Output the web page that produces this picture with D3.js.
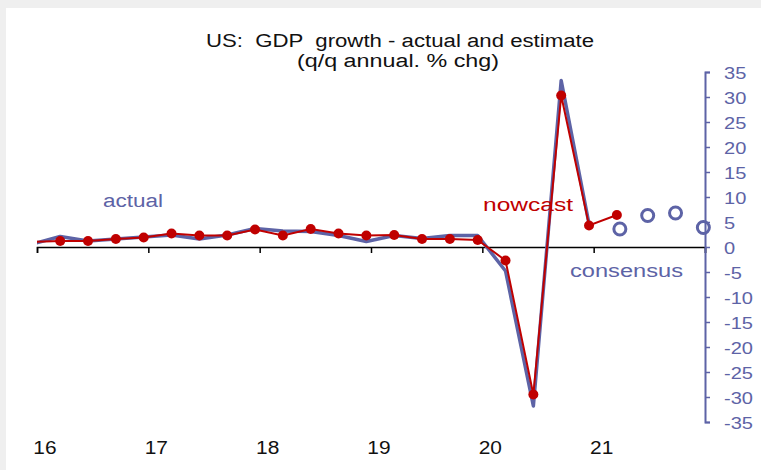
<html>
<head>
<script src="https://d3js.org/d3.v7.min.js"></script>
<style>
  body { margin: 0; background: #fff; }
  text { font-family: "Liberation Sans", Arial, sans-serif; }
</style>
</head>
<body>
<svg id="chart" width="761" height="470"></svg>
<script>
// quarterly data
const actualQ = ["2015Q4","2016Q1","2016Q2","2016Q3","2016Q4","2017Q1","2017Q2","2017Q3","2017Q4",
  "2018Q1","2018Q2","2018Q3","2018Q4","2019Q1","2019Q2","2019Q3","2019Q4","2020Q1","2020Q2","2020Q3","2020Q4"];
const actual = [0.6, 2.1, 1.2, 1.6, 2.0, 2.4, 1.6, 2.4, 3.7, 3.2, 3.1, 2.3, 1.1, 2.3, 1.7, 2.3, 2.3, -4.8, -31.8, 33.3, 4.6];

const nowcastQ = actualQ.concat(["2021Q1"]);
const nowcast = [1.0, 1.2, 1.2, 1.6, 1.9, 2.7, 2.3, 2.3, 3.5, 2.3, 3.6, 2.7, 2.3, 2.4, 1.6, 1.6, 1.4, -2.7, -29.5, 30.3, 4.3, 6.4];

const consensusQ = ["2021Q1","2021Q2","2021Q3","2021Q4"];
const consensus = [3.6, 6.3, 6.8, 3.9];

const yearTicks = [2016, 2017, 2018, 2019, 2020, 2021, 2022];
const yearLabels = ["16", "17", "18", "19", "20", "21"];
const yTicks = [35, 30, 25, 20, 15, 10, 5, 0, -5, -10, -15, -20, -25, -30, -35];

const svg = d3.select("#chart");
const W = 761, H = 470;
const blue = "#5d63a6", red = "#c00000";

// frame
svg.append("rect").attr("width", W).attr("height", H).attr("fill", "#efefef");
svg.append("rect").attr("x", 6).attr("y", 8).attr("width", W - 6).attr("height", H - 8).attr("fill", "#fff");

const x = d3.scaleLinear().domain([2016, 2022]).range([37, 705]);
const y = d3.scaleLinear().domain([-35, 35]).range([422, 72]);

// quarter string -> fractional year (middle of last month of quarter)
const qx = s => { const yr = +s.slice(0, 4), q = +s.slice(5); return x(yr + (3 * q - 0.5) / 12); };

svg.append("clipPath").attr("id", "clip")
  .append("rect").attr("x", 37).attr("y", 0).attr("width", 668).attr("height", H);

// title (the original text is a bit stretched sideways)
svg.append("text").attr("x", 400).attr("y", 47).attr("text-anchor", "middle")
  .style("font-size", "18px").attr("fill", "#111")
  .attr("xml:space", "preserve")
  .attr("textLength", 388).attr("lengthAdjust", "spacingAndGlyphs")
  .text("US:  GDP  growth - actual and estimate");
svg.append("text").attr("x", 398).attr("y", 67).attr("text-anchor", "middle")
  .style("font-size", "18px").attr("fill", "#111")
  .attr("textLength", 202).attr("lengthAdjust", "spacingAndGlyphs")
  .text("(q/q annual. % chg)");

// x axis
const xAxis = d3.axisBottom(x).tickValues(yearTicks).tickSize(6).tickFormat("");
const gx = svg.append("g").attr("transform", "translate(0," + y(0) + ")").call(xAxis);
gx.select(".domain").attr("stroke", "#000").attr("stroke-width", 1.5);
gx.selectAll(".tick line").attr("stroke", "#000").attr("stroke-width", 1.5);

svg.selectAll(".xlab").data(yearLabels).enter().append("text")
  .attr("class", "xlab")
  .attr("transform", (d, i) => "translate(" + (x(yearTicks[i]) + 8) + ",454) scale(1.1,1)")
  .attr("text-anchor", "middle")
  .style("font-size", "19px")
  .attr("fill", "#111")
  .text(d => d);

// y axis on the right
const yAxis = d3.axisRight(y).tickValues(yTicks).tickSize(5).tickSizeOuter(5).tickFormat(d => d);
const gy = svg.append("g").attr("transform", "translate(705,0)").call(yAxis);
gy.select(".domain").attr("stroke", blue).attr("stroke-width", 2);
gy.selectAll(".tick line").attr("stroke", blue).attr("stroke-width", 1.5);
gy.selectAll(".tick text").attr("fill", blue).style("font-size", "17px")
  .style("font-family", "'Liberation Sans', Arial, sans-serif").attr("text-anchor", "start")
  .attr("x", 0).attr("dy", "0.36em")
  .attr("transform", "translate(19,0) scale(1.18,1)");

// lines
const line = d3.line().x(d => qx(d.q)).y(d => y(d.v));
const actualData = actualQ.map((q, i) => ({ q: q, v: actual[i] }));
const nowData = nowcastQ.map((q, i) => ({ q: q, v: nowcast[i] }));

svg.append("path").attr("clip-path", "url(#clip)")
  .attr("d", line(actualData)).attr("fill", "none")
  .attr("stroke", blue).attr("stroke-width", 3.5).attr("stroke-linejoin", "round");

svg.append("path").attr("clip-path", "url(#clip)")
  .attr("d", line(nowData)).attr("fill", "none")
  .attr("stroke", red).attr("stroke-width", 2);

svg.append("g").attr("clip-path", "url(#clip)").selectAll("circle").data(nowData).enter().append("circle")
  .attr("cx", d => qx(d.q)).attr("cy", d => y(d.v)).attr("r", 5).attr("fill", red);

svg.append("g").selectAll("circle").data(consensusQ.map((q, i) => ({ q: q, v: consensus[i] }))).enter()
  .append("circle")
  .attr("cx", d => qx(d.q) + 3).attr("cy", d => y(d.v)).attr("r", 6)
  .attr("fill", "none").attr("stroke", blue).attr("stroke-width", 3);

// labels
const label = (txt, lx, ly, len, col) => svg.append("text").attr("x", lx).attr("y", ly)
  .style("font-size", "18px").attr("textLength", len).attr("lengthAdjust", "spacingAndGlyphs")
  .attr("fill", col).text(txt);
label("actual", 103, 207, 60, blue);
label("nowcast", 483, 211, 90, red);
label("consensus", 570, 277, 113, blue);
</script>
</body>
</html>
